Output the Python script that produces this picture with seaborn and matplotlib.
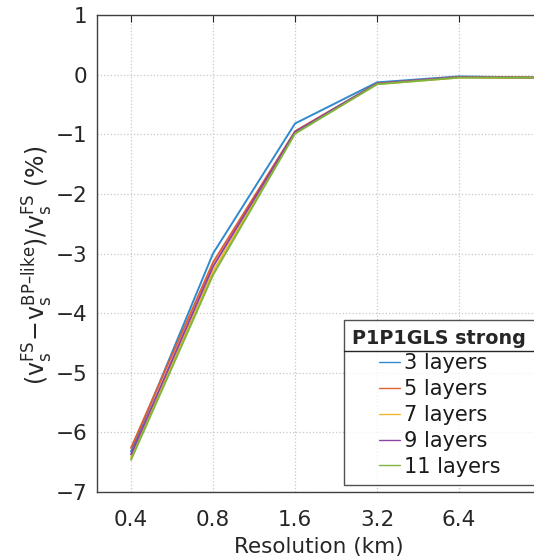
import pandas as pd
import numpy as np
import matplotlib
matplotlib.use("Agg")
import matplotlib.pyplot as plt
import seaborn as sns
from matplotlib.lines import Line2D

# data
resolution = [0.4, 0.8, 1.6, 3.2, 6.4, 12.8]
layers = ["3 layers", "5 layers", "7 layers", "9 layers", "11 layers"]
diff_3 = [-6.32, -3.00, -0.82, -0.13, -0.03, -0.05]
diff_5 = [-6.26, -3.15, -0.95, -0.15, -0.04, -0.05]
diff_7 = [-6.42, -3.30, -0.98, -0.16, -0.05, -0.05]
diff_9 = [-6.37, -3.22, -0.96, -0.15, -0.04, -0.05]
diff_11 = [-6.46, -3.36, -0.99, -0.16, -0.05, -0.05]

colors = ["#2F8ACF", "#E0612E", "#EFB92F", "#8E44A3", "#7FB53C"]

df = pd.DataFrame({
    "Resolution": resolution * 5,
    "Diff": diff_3 + diff_5 + diff_7 + diff_9 + diff_11,
    "Layers": np.repeat(layers, len(resolution)),
})

sns.set_style("white")
plt.rcParams["font.family"] = ["DejaVu Sans"]
plt.rcParams["mathtext.fontset"] = "custom"
plt.rcParams["mathtext.rm"] = "DejaVu Sans"
plt.rcParams["mathtext.it"] = "DejaVu Sans"

fig = plt.figure(figsize=(5.34, 5.59), dpi=100)
ax = fig.add_axes([97 / 534, 1 - 492 / 559, (541 - 97) / 534, (492 - 15) / 559])

sns.lineplot(data=df, x="Resolution", y="Diff", hue="Layers", hue_order=layers,
             palette=colors, linewidth=1.4, ax=ax, legend=False)

ax.set_xscale("log", base=2)
ax.set_xlim(0.3, 12.8)
ax.set_ylim(-7, 1)
ax.set_xticks(resolution[:-1])
ax.set_xticklabels(["0.4", "0.8", "1.6", "3.2", "6.4"])
ax.minorticks_off()
ax.set_yticks(range(-7, 2))
ax.set_yticklabels([str(v).replace("-", "\u2212") for v in range(-7, 2)])
ax.tick_params(axis="both", labelsize=15.5, colors="#262626", direction="in",
               length=5, width=0.8, top=True, right=False, pad=7)
ax.tick_params(axis="x", pad=13)
ax.grid(True, linestyle=":", color="#c8c8c8", linewidth=0.9)
for s in ax.spines.values():
    s.set_color("#404040")
    s.set_linewidth(1.0)

ax.set_xlabel("Resolution (km)", fontsize=15.5, color="#262626", labelpad=5)
ax.set_ylabel("$(\\mathrm{v}_\\mathrm{s}^\\mathrm{FS}\\!-\\!\\mathrm{v}_\\mathrm{s}^\\mathrm{BP\u2013like})"
              "/\\mathrm{v}_\\mathrm{s}^\\mathrm{FS}$ (%)",
              fontsize=17, color="#262626")
ax.yaxis.set_label_coords(-0.095, 0.476)

handles = [Line2D([], [], color=c, linewidth=1.0) for c in colors]
leg = ax.legend(handles, layers, title="P1P1GLS strong", loc="lower left",
                bbox_to_anchor=((344 - 97) / (541 - 97), (492 - 485) / (492 - 15)),
                fontsize=15, title_fontproperties={"weight": "bold", "size": 13.8},
                frameon=True, fancybox=False, edgecolor="#262626",
                handlelength=1.05, handletextpad=0.15, labelspacing=0.28,
                borderpad=0.4, borderaxespad=0)
leg.get_frame().set_linewidth(1.0)
for t in leg.get_texts():
    t.set_color("#1a1a1a")
leg._legend_box.align = "center"

fig.canvas.draw()
bb = leg.get_window_extent().transformed(fig.transFigure.inverted())
tb = leg.get_title().get_window_extent().transformed(fig.transFigure.inverted())
sep_y = tb.y0 - 0.006
fig.add_artist(Line2D([bb.x0, bb.x1], [sep_y, sep_y], color="#262626",
                      linewidth=1.0, transform=fig.transFigure))

fig.savefig("out.png", dpi=100)
